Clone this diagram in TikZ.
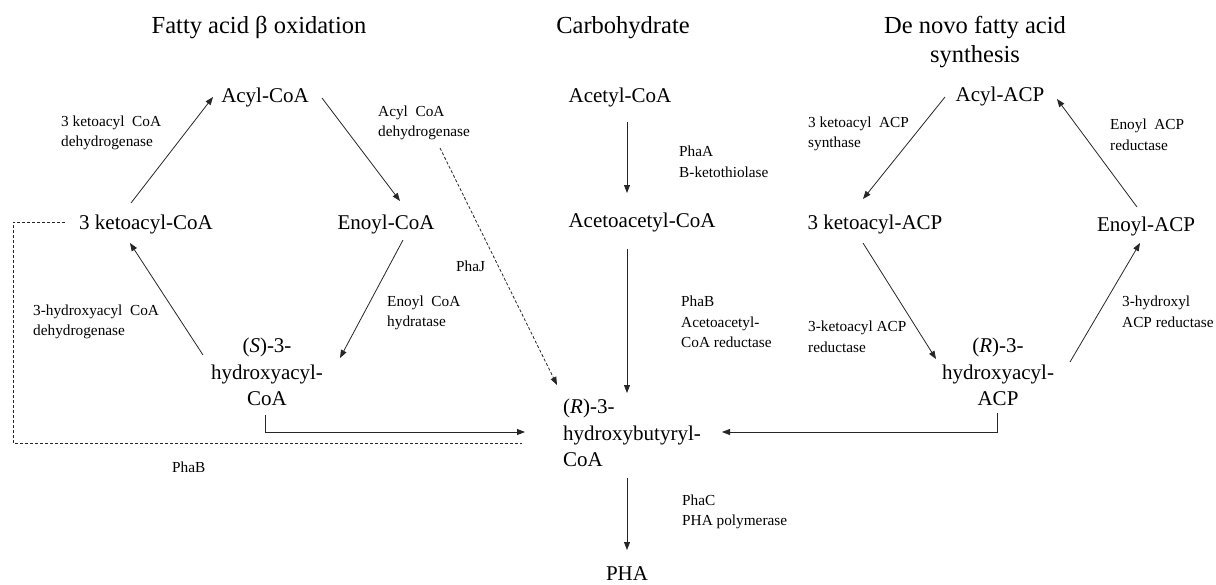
\documentclass[tikz,border=0pt]{standalone}
\usepackage{fontspec}
\setmainfont{Liberation Serif}
\usetikzlibrary{arrows.meta}
\begin{document}
\begin{tikzpicture}[x=1pt,y=-1pt,
  big/.style={font=\fontsize{21}{26.5}\selectfont, inner sep=0pt, align=center},
  ttl/.style={font=\fontsize{24.5}{29}\selectfont, inner sep=0pt, align=center},
  small/.style={font=\fontsize{15.3}{20.5}\selectfont, inner sep=0pt, align=left, anchor=west},
  arr/.style={draw=black!85, line width=0.8pt, -{Triangle[length=8pt,width=6pt]}},
  dsh/.style={draw=black!85, line width=0.8pt, dash pattern=on 3pt off 2pt},
  dsharr/.style={dsh, -{Triangle[length=8pt,width=6pt]}}
]
\useasboundingbox (0,0) rectangle (1216,584);

% titles
\node[ttl] (t1) at (259,28) {Fatty acid β oxidation};
\node[ttl] (t2) at (623,28) {Carbohydrate};
\node[ttl] (t3) at (975,42) {De novo fatty acid\\synthesis};

% metabolites
\node[big] (acylcoa) at (265,97) {Acyl-CoA};
\node[big] (ketocoa) at (146,224) {3 ketoacyl-CoA};
\node[big] (enoylcoa) at (386,224) {Enoyl-CoA};
\node[big] (scoa) at (267,372) {(\textit{S})-3-\\hydroxyacyl-\\CoA};
\node[big] (acetyl) at (620,97) {Acetyl-CoA};
\node[big] (acetoacetyl) at (642,222) {Acetoacetyl-CoA};
\node[big, align=left, anchor=west] (rhb) at (563,433) {(\textit{R})-3-\\hydroxybutyryl-\\CoA};
\node[big] (pha) at (627,574) {PHA};
\node[big] (acylacp) at (1000,96) {Acyl-ACP};
\node[big] (ketoacp) at (875,224) {3 ketoacyl-ACP};
\node[big] (enoylacp) at (1146,226) {Enoyl-ACP};
\node[big] (racp) at (998,372) {(\textit{R})-3-\\hydroxyacyl-\\ACP};

% enzyme labels
\node[small] (l1) at (61,133) {3 ketoacyl\ \ CoA\\dehydrogenase};
\node[small] (l2) at (378,123) {Acyl\ \ CoA\\dehydrogenase};
\node[small] (l3) at (456,266) {PhaJ};
\node[small] (l4) at (387,313) {Enoyl\ \ CoA\\hydratase};
\node[small] (l5) at (33,322) {3-hydroxyacyl\ \ CoA\\dehydrogenase};
\node[small] (l6) at (172,467) {PhaB};
\node[small] (l7) at (679,162) {PhaA\\B-ketothiolase};
\node[small] (l8) at (681,322) {PhaB\\Acetoacetyl-\\CoA reductase};
\node[small] (l9) at (682,512) {PhaC\\PHA polymerase};
\node[small] (l10) at (808,134) {3 ketoacyl\ \ ACP\\synthase};
\node[small] (l11) at (1110,135) {Enoyl\ \ ACP\\reductase};
\node[small] (l12) at (808,337) {3-ketoacyl ACP\\reductase};
\node[small] (l13) at (1122,312) {3-hydroxyl\\ACP reductase};

% connector end points
\coordinate (k2a) at (131,203); \coordinate (k2aE) at (213,97);
\coordinate (a2e) at (322,98);  \coordinate (a2eE) at (400,201);
\coordinate (e2s) at (403,240); \coordinate (e2sE) at (340,358);
\coordinate (s2k) at (203,355); \coordinate (s2kE) at (130,243);
\coordinate (s2r) at (265,415); \coordinate (s2rE) at (525,432);
\coordinate (kd) at (65,222);   \coordinate (kdC) at (13,222); \coordinate (kdE) at (522,443);
\coordinate (pj) at (440,148);  \coordinate (pjE) at (557,385);
\coordinate (ac1) at (627,122); \coordinate (ac1E) at (627,193);
\coordinate (ac2) at (627,249); \coordinate (ac2E) at (627,393);
\coordinate (ph) at (627,478);  \coordinate (phE) at (627,550);
\coordinate (p1) at (945,97);   \coordinate (p1E) at (863,199);
\coordinate (p2) at (863,243);  \coordinate (p2E) at (936,359);
\coordinate (p3) at (1070,362); \coordinate (p3E) at (1140,243);
\coordinate (p4) at (1137,207); \coordinate (p4E) at (1057,99);
\coordinate (p5) at (997,413);  \coordinate (p5E) at (722,432);

% connectors
\draw[arr] (k2a) -- (k2aE);
\draw[arr] (a2e) -- (a2eE);
\draw[arr] (e2s) -- (e2sE);
\draw[arr] (s2k) -- (s2kE);
\draw[arr] (s2r) |- (s2rE);
\draw[dsh] (kd) -- (kdC) |- (kdE);
\draw[dsharr] (pj) -- (pjE);
\draw[arr] (ac1) -- (ac1E);
\draw[arr] (ac2) -- (ac2E);
\draw[arr] (ph) -- (phE);
\draw[arr] (p1) -- (p1E);
\draw[arr] (p2) -- (p2E);
\draw[arr] (p3) -- (p3E);
\draw[arr] (p4) -- (p4E);
\draw[arr] (p5) |- (p5E);
\end{tikzpicture}
\end{document}
